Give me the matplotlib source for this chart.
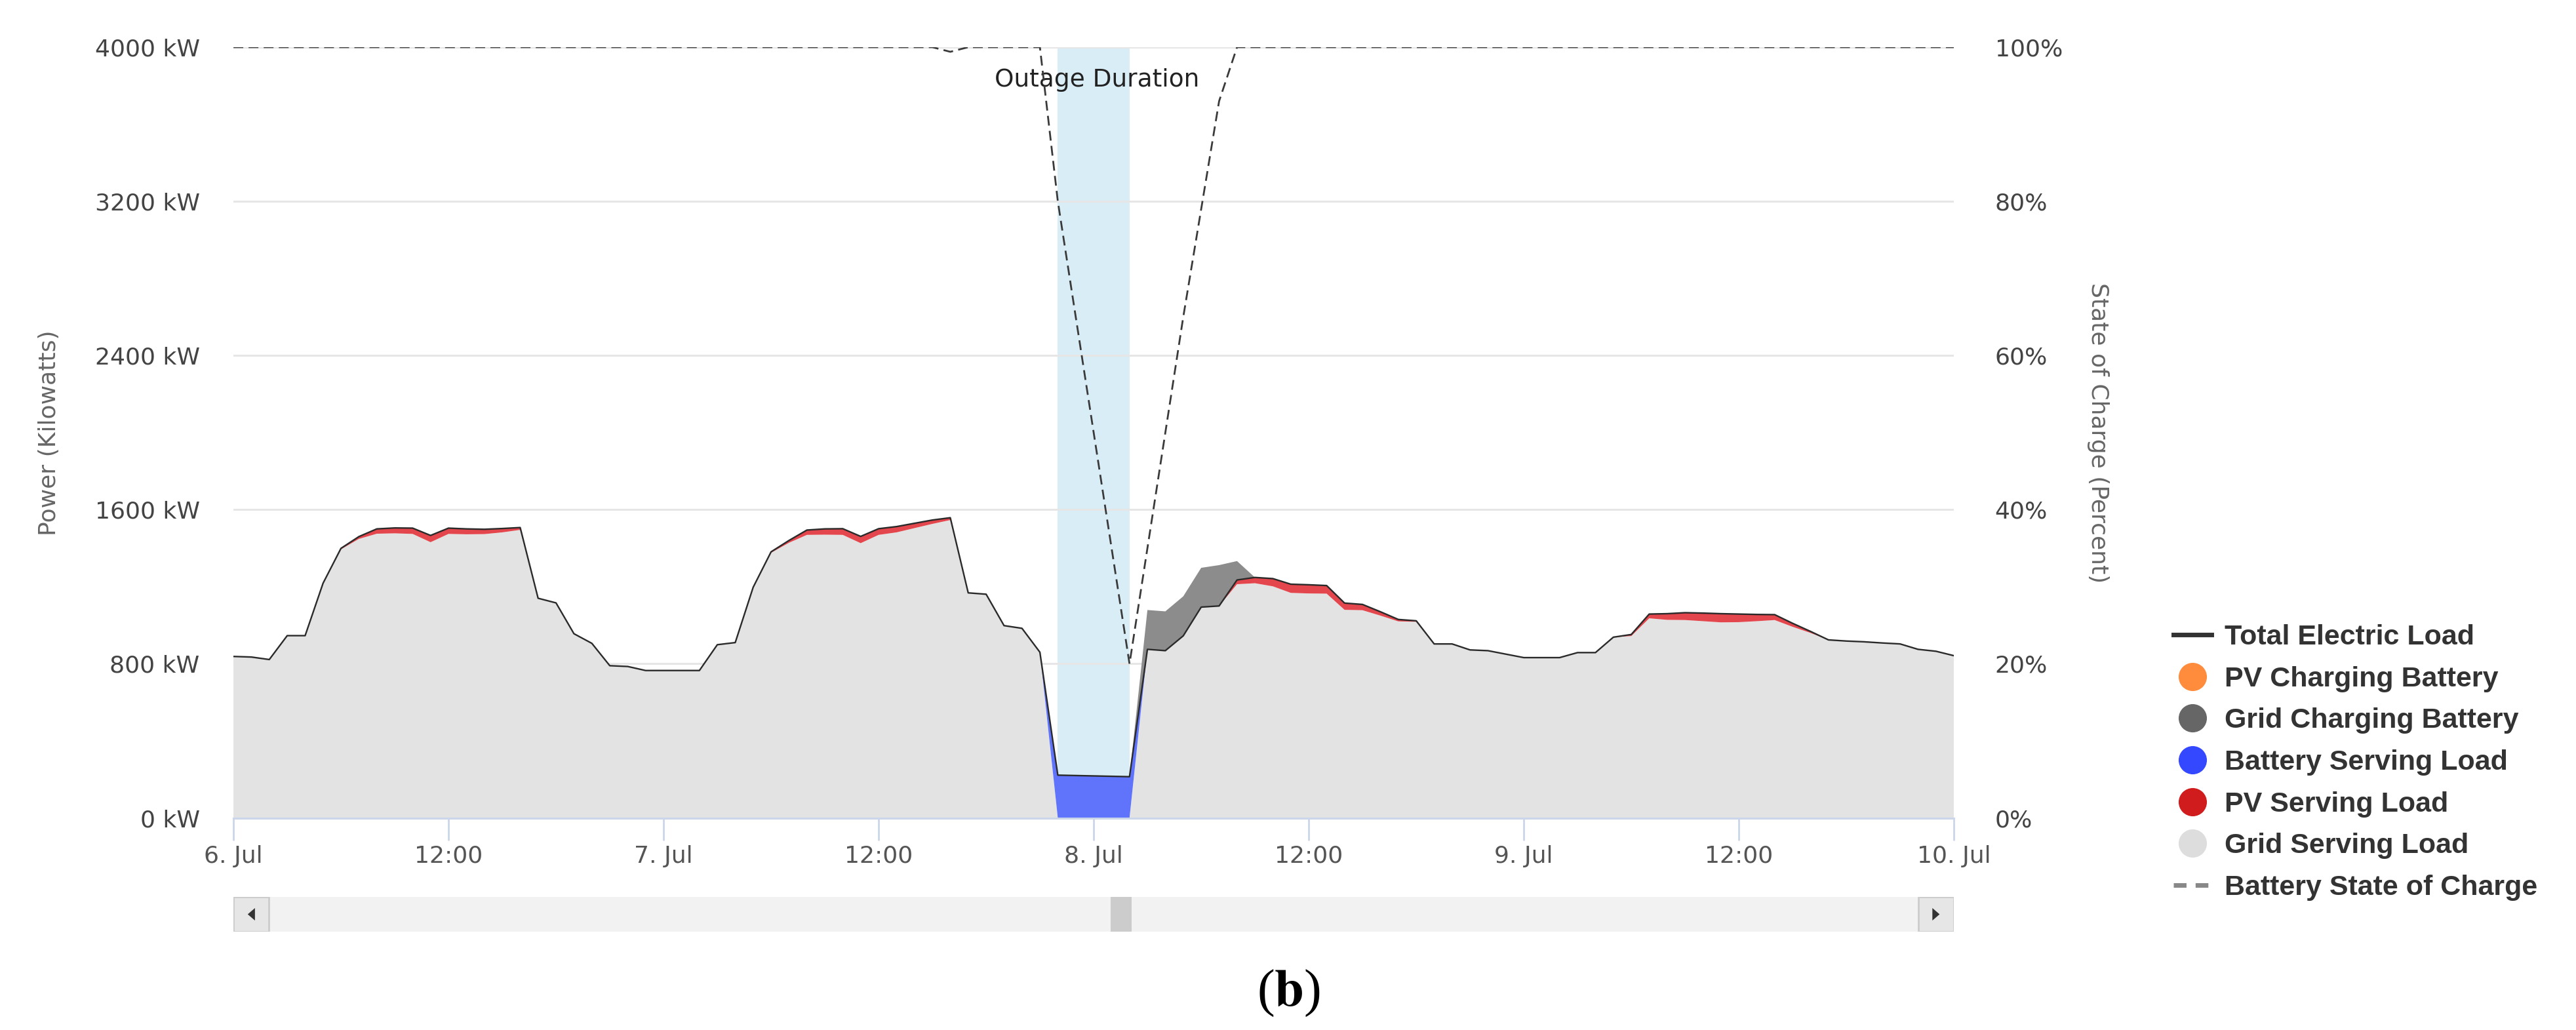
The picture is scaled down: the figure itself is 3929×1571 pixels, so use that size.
import numpy as np
import matplotlib
matplotlib.use('Agg')
import matplotlib.pyplot as plt
from matplotlib.lines import Line2D
from matplotlib.patches import Rectangle, Polygon

plt.rcParams['font.family'] = ['DejaVu Sans']

# hourly values, 6 Jul 00:00 .. 10 Jul 00:00
hours = np.arange(97)

total_load = np.array([
    838, 835, 822, 946, 946, 1218, 1399, 1460, 1500, 1505, 1504, 1466,
    1504, 1500, 1498, 1502, 1507, 1140, 1116, 956, 906, 790, 786, 765,
    765, 765, 765, 899, 910, 1197, 1381, 1440, 1494, 1500, 1501, 1461,
    1501, 1512, 1529, 1546, 1558, 1168, 1161, 998, 984, 860, 222, 220,
    218, 216, 214, 875, 868, 945, 1094, 1100, 1235, 1248, 1242, 1213,
    1210, 1206, 1115, 1108, 1070, 1030, 1023, 903, 903, 872, 868, 850,
    832, 832, 832, 858, 858, 938, 952, 1058, 1060, 1065, 1063, 1060,
    1058, 1056, 1055, 1010, 968, 924, 918, 914, 908, 903, 875, 865,
    842, 842,
])
total_load = total_load[:97]

pv_serving = np.array([
    0, 0, 0, 0, 0, 0, 5, 12, 25, 28, 30, 35, 30, 28, 25, 20, 12, 0, 0, 0, 0, 0, 0, 0,
    0, 0, 0, 0, 0, 0, 5, 12, 25, 30, 32, 35, 32, 30, 25, 20, 12, 0, 0, 0, 0, 0, 0, 0,
    0, 0, 0, 0, 0, 0, 0, 0, 22, 30, 40, 45, 45, 42, 35, 30, 20, 10, 5, 0, 0, 0, 0, 0,
    0, 0, 0, 0, 0, 0, 8, 22, 32, 38, 42, 45, 42, 35, 28, 18, 8, 0, 0, 0, 0, 0, 0, 0,
    0,
])

battery_serving = np.zeros(97)
battery_serving[46:51] = [222, 220, 218, 216, 214]

grid_charging = np.zeros(97)
grid_charging[51:57] = [204, 204, 205, 204, 212, 98]

pv_charging = np.zeros(97)

grid_serving = total_load - pv_serving - battery_serving

soc = np.full(97, 100.0)
soc[40] = 99.4
soc[46:56] = [80, 65, 50, 35, 20, 35, 50, 65, 79, 93]

outage_start, outage_end = 46, 50

kw_ticks = [0, 800, 1600, 2400, 3200, 4000]
soc_ticks = [0, 20, 40, 60, 80, 100]
x_ticks = [0, 12, 24, 36, 48, 60, 72, 84, 96]
x_labels = ['6. Jul', '12:00', '7. Jul', '12:00', '8. Jul', '12:00', '9. Jul', '12:00', '10. Jul']

series_names = ['Total Electric Load', 'PV Charging Battery', 'Grid Charging Battery',
                'Battery Serving Load', 'PV Serving Load', 'Grid Serving Load',
                'Battery State of Charge']

fig = plt.figure(figsize=(39.3, 15.71), dpi=100)
ax = fig.add_axes([0.0906, 0.2059, 0.6677, 0.7483])

ax.axvspan(outage_start, outage_end, color='#d9edf7', lw=0, zorder=0)
ax.stackplot(hours, grid_serving, pv_serving, battery_serving, grid_charging, pv_charging,
             colors=['#e3e3e3', '#e3474d', '#5f74fb', '#8c8c8c', '#ff8c3c'],
             lw=0, zorder=1)
ax.plot(hours, total_load, color='#2a2a2a', lw=1.7, zorder=3)

ax.set_xlim(0, 96)
ax.set_ylim(0, 4000)
ax.set_yticks(kw_ticks)
ax.set_yticklabels([f'{v} kW' for v in kw_ticks])
ax.set_xticks(x_ticks)
ax.set_xticklabels(x_labels)
ax.grid(axis='y', color='#e6e6e6', lw=2.2)
ax.set_axisbelow(True)
for s in ['top', 'left', 'right']:
    ax.spines[s].set_visible(False)
ax.spines['bottom'].set_color('#ccd6eb')
ax.spines['bottom'].set_linewidth(2.2)
ax.tick_params(axis='y', length=0, pad=37, labelsize=26, labelcolor='#444444')
ax.tick_params(axis='x', length=24.5, width=2, color='#ccd6eb', pad=5,
               labelsize=26, labelcolor='#555555')

ax.text(48.2, 0.949, 'Outage Duration', transform=ax.get_xaxis_transform(),
        ha='center', va='baseline', fontsize=27, color='#222222', zorder=5)

ax2 = ax.twinx()
ax2.plot(hours, soc, color='#3a3a3a', lw=2, linestyle=(0, (5.4, 2.9)))
ax2.set_ylim(0, 100)
ax2.set_yticks(soc_ticks)
ax2.set_yticklabels([f'{v}%' for v in soc_ticks])
ax2.tick_params(axis='y', length=0, pad=45, labelsize=26, labelcolor='#444444')
for s in ax2.spines.values():
    s.set_visible(False)

fig.text(75 / 3930, 0.58, 'Power (Kilowatts)', rotation=90, ha='center', va='center',
         fontsize=26, color='#666666')
fig.text(3200 / 3930, 0.58, 'State of Charge (Percent)', rotation=270, ha='center',
         va='center', fontsize=26, color='#666666')

# legend
handles = [Line2D([], [], color='#333333', lw=5)]
for c in ['#ff8c3c', '#666666', '#3448ff', '#d01c1c', '#dddddd']:
    handles.append(Line2D([], [], ls='none', marker='o', ms=30, color=c))
handles.append(Line2D([], [], color='#888888', lw=5, linestyle=(0, (2.8, 2))))
leg = fig.legend(handles, series_names, loc='upper left', bbox_to_anchor=(0.8435, 0.394),
                 frameon=False, borderaxespad=0, borderpad=0, handlelength=1.35,
                 handletextpad=0.47, labelspacing=0.55,
                 prop={'family': 'Liberation Sans', 'weight': 'bold', 'size': 31})
for t in leg.get_texts():
    t.set_color('#333333')

# scrollbar under the plot
sb = fig.add_axes([0.0906, 0.0955, 0.6677, 0.0337])
sb.set_xlim(0, 1)
sb.set_ylim(0, 1)
sb.axis('off')
sb.add_patch(Rectangle((0, 0), 1, 1, fc='#f2f2f2', ec='none'))
sb.add_patch(Rectangle((0, 0), 0.0206, 1, fc='#e6e6e6', ec='#cccccc', lw=2))
sb.add_patch(Rectangle((0.9794, 0), 0.0206, 1, fc='#e6e6e6', ec='#cccccc', lw=2))
sb.add_patch(Rectangle((0.510, 0), 0.012, 1, fc='#cccccc', ec='none'))
sb.add_patch(Polygon([(0.0125, 0.32), (0.0125, 0.68), (0.0083, 0.5)], closed=True, fc='#333333'))
sb.add_patch(Polygon([(0.9875, 0.32), (0.9875, 0.68), (0.9917, 0.5)], closed=True, fc='#333333'))

fig.text(0.5, 0.036, r'($\mathbf{b}$)', ha='center', va='center', fontsize=58,
         family='Liberation Serif', math_fontfamily='stix')

fig.savefig('out.png', dpi=100)
